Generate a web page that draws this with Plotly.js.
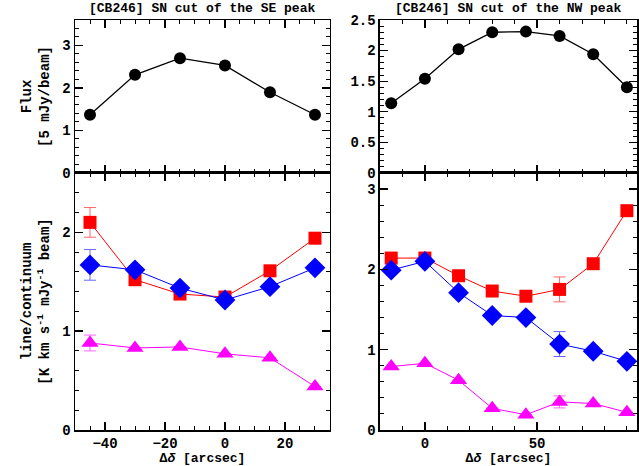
<!DOCTYPE html>
<html>
<head>
<meta charset="utf-8">
<script src="https://cdn.plot.ly/plotly-3.0.1.min.js"></script>
<style>
  html, body { margin: 0; padding: 0; background: #fff; }
  #chart { width: 639px; height: 466px; }
</style>
</head>
<body>
<div id="chart"></div>
<script>
// SE cut (left panels)
const seOffsets = [-45, -30, -15, 0, 15, 30]
const seFlux = [1.37, 2.31, 2.70, 2.53, 1.90, 1.37]
const seRed = [2.10, 1.52, 1.375, 1.345, 1.61, 1.94]
const seBlue = [1.67, 1.62, 1.435, 1.315, 1.45, 1.64]
const seMagenta = [0.88, 0.83, 0.84, 0.77, 0.73, 0.44]
const seRedErr = [0.15, null, null, null, null, null]
const seBlueErr = [0.155, null, null, null, null, null]
const seMagentaErr = [0.08, null, null, null, null, null]

// NW cut (right panels)
const nwOffsets = [-15, 0, 15, 30, 45, 60, 75, 90]
const nwFlux = [1.14, 1.54, 2.02, 2.30, 2.31, 2.24, 1.94, 1.40]
const nwRed = [2.14, 2.14, 1.92, 1.73, 1.665, 1.75, 2.07, 2.73]
const nwBlue = [1.99, 2.10, 1.71, 1.425, 1.40, 1.07, 0.98, 0.855]
const nwMagenta = [0.79, 0.83, 0.62, 0.27, 0.19, 0.35, 0.33, 0.22]
const nwRedErr = [null, null, null, null, null, 0.155, null, null]
const nwBlueErr = [null, null, null, null, null, 0.155, null, null]
const nwMagentaErr = [null, null, null, null, null, 0.075, null, null]

const panelTitles = ['[CB246] SN cut of the SE peak', '[CB246] SN cut of the NW peak']

const monoFont = { family: 'Liberation Mono, DejaVu Sans Mono, monospace', size: 13, color: '#000', weight: 'bold' }
const tickFont = Object.assign({}, monoFont, { size: 14 })
const ytitleFont = Object.assign({}, monoFont, { size: 14 })

function fluxTrace(x, y, xa, ya) {
  return {
    type: 'scatter', mode: 'lines+markers', x: x, y: y, xaxis: xa, yaxis: ya,
    line: { color: '#000', width: 1.3 },
    marker: { color: '#000', size: 12, symbol: 'circle' },
  }
}

function ratioTrace(x, y, err, color, errColor, symbol, size, xa, ya) {
  return {
    type: 'scatter', mode: 'lines+markers', x: x, y: y, xaxis: xa, yaxis: ya,
    line: { color: color, width: 1 },
    marker: { color: color, size: size, symbol: symbol },
    error_y: { type: 'data', array: err, visible: true, color: errColor, thickness: 1, width: 6 },
  }
}

const data = [
  fluxTrace(seOffsets, seFlux, 'x', 'y'),
  fluxTrace(nwOffsets, nwFlux, 'x2', 'y2'),
  ratioTrace(seOffsets, seMagenta, seMagentaErr, '#ff00ff', '#ff66ff', 'triangle-up', 15, 'x3', 'y3'),
  ratioTrace(seOffsets, seRed, seRedErr, '#ff0000', '#ff6666', 'square', 13, 'x3', 'y3'),
  ratioTrace(seOffsets, seBlue, seBlueErr, '#0000ff', '#6666ff', 'diamond', 16, 'x3', 'y3'),
  ratioTrace(nwOffsets, nwMagenta, nwMagentaErr, '#ff00ff', '#ff66ff', 'triangle-up', 15, 'x4', 'y4'),
  ratioTrace(nwOffsets, nwRed, nwRedErr, '#ff0000', '#ff6666', 'square', 13, 'x4', 'y4'),
  ratioTrace(nwOffsets, nwBlue, nwBlueErr, '#0000ff', '#6666ff', 'diamond', 16, 'x4', 'y4'),
]

const axisBase = {
  showgrid: false, zeroline: false,
  showline: true, linecolor: '#000', linewidth: 1.5,
  mirror: 'allticks', ticks: 'inside', ticklen: 8, tickwidth: 1.3, tickcolor: '#000',
  tickfont: tickFont,
  fixedrange: true,
}
function ax(extra, minorStep) {
  return Object.assign({}, axisBase, {
    minor: { ticks: 'inside', ticklen: 4, tickwidth: 1, tickcolor: '#000', dtick: minorStep, showgrid: false },
  }, extra)
}

const leftDom = [0, 0.4537]
const rightDom = [0.5427, 1]
const topDom = [0.627, 1]
const botDom = [0, 0.627]

const layout = {
  width: 639, height: 466,
  margin: { l: 75, r: 2, t: 20, b: 36 },
  paper_bgcolor: '#fff', plot_bgcolor: '#fff',
  showlegend: false,
  font: monoFont,
  xaxis: ax({ domain: leftDom, anchor: 'y', range: [-50, 35], dtick: 20, tick0: 0, showticklabels: false }, 5),
  yaxis: ax({ domain: topDom, anchor: 'x', range: [0, 3.6], dtick: 1, tick0: 0,
    title: { text: 'Flux<br>[5 mJy/beam]', font: ytitleFont, standoff: 9 } }, 0.2),
  xaxis2: ax({ domain: rightDom, anchor: 'y2', range: [-20, 94.5], dtick: 50, tick0: 0, showticklabels: false }, 10),
  yaxis2: ax({ domain: topDom, anchor: 'x2', range: [0, 2.5], dtick: 0.5, tick0: 0 }, 0.1),
  xaxis3: ax({ domain: leftDom, anchor: 'y3', range: [-50, 35], dtick: 20, tick0: 0,
    title: { text: 'Δ<i>δ</i> [arcsec]', font: monoFont, standoff: 4 } }, 5),
  yaxis3: ax({ domain: botDom, anchor: 'x3', range: [0, 2.6], dtick: 1, tick0: 0,
    title: { text: 'line/continuum<br>[K km s<sup>-1</sup> mJy<sup>-1</sup> beam]', font: ytitleFont, standoff: 9 } }, 0.2),
  xaxis4: ax({ domain: rightDom, anchor: 'y4', range: [-20, 94.5], dtick: 50, tick0: 0,
    title: { text: 'Δ<i>δ</i> [arcsec]', font: monoFont, standoff: 4 } }, 10),
  yaxis4: ax({ domain: botDom, anchor: 'x4', range: [0, 3.2], dtick: 1, tick0: 0 }, 0.2),
  annotations: [
    { text: panelTitles[0], xref: 'paper', yref: 'paper', x: (leftDom[0] + leftDom[1]) / 2, y: 1,
      yshift: 2, xanchor: 'center', yanchor: 'bottom', showarrow: false, font: monoFont },
    { text: panelTitles[1], xref: 'paper', yref: 'paper', x: (rightDom[0] + rightDom[1]) / 2, y: 1,
      yshift: 2, xanchor: 'center', yanchor: 'bottom', showarrow: false, font: monoFont },
  ],
}

Plotly.newPlot('chart', data, layout, { displayModeBar: false, staticPlot: true })
</script>
</body>
</html>
